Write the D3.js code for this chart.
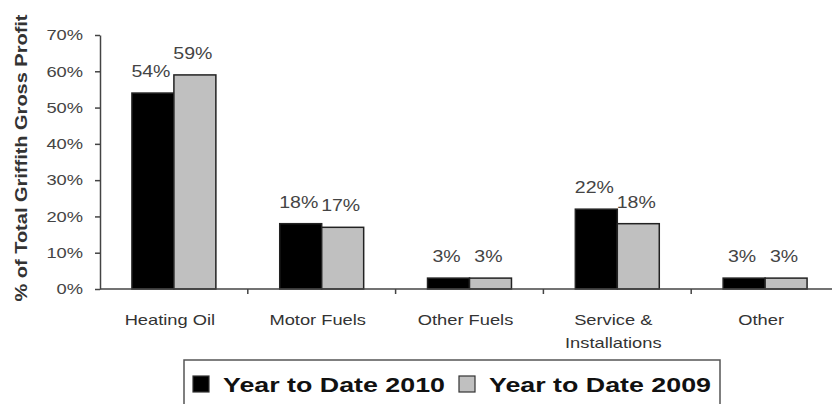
<!DOCTYPE html>
<html>
<head>
<meta charset="utf-8">
<script src="https://cdn.jsdelivr.net/npm/d3@7"></script>
<style>
  body { margin: 0; background: #fff; }
  text { font-family: Arial, "Liberation Sans", sans-serif; }
</style>
</head>
<body>
<div id="chart"></div>
<script>
let categories = ['Heating Oil', 'Motor Fuels', 'Other Fuels', 'Service & Installations', 'Other']
let seriesNames = ['Year to Date 2010', 'Year to Date 2009']
let values2010 = [54, 18, 3, 22, 3]
let values2009 = [59, 17, 3, 18, 3]
let yTicks = [0, 10, 20, 30, 40, 50, 60, 70]

let width = 832
let height = 404

let svg = d3
  .select('#chart')
  .append('svg')
  .attr('width', width)
  .attr('height', height)

// the source picture is stretched sideways, so text is widened to match
function widen(sel, k) {
  sel.each(function() {
    let len = this.getComputedTextLength()
    d3.select(this).attr('textLength', len * k).attr('lengthAdjust', 'spacingAndGlyphs')
  })
}

let x = d3.scaleBand().domain(categories).range([100, 839]).paddingInner(0.432).paddingOuter(0.216)
let sub = d3.scaleBand().domain(seriesNames).range([0, x.bandwidth()])
let y = d3.scaleLinear().domain([0, 70]).range([289, 35])

let colors = { 'Year to Date 2010': '#000', 'Year to Date 2009': '#c0c0c0' }

let rows = categories.map((c, i) => ({
  category: c,
  values: [
    { key: seriesNames[0], value: values2010[i] },
    { key: seriesNames[1], value: values2009[i] }
  ]
}))

// y axis
let yAxis = svg.append('g')
  .attr('transform', 'translate(100,0)')
  .call(d3.axisLeft(y).tickValues(yTicks).tickFormat(d => d + '%').tickSize(5).tickSizeOuter(0))
yAxis.select('.domain').attr('stroke', '#444').attr('stroke-width', 1.5)
yAxis.selectAll('line').attr('stroke', '#444').attr('stroke-width', 1.5)
yAxis.selectAll('text')
  .attr('font-size', 15)
  .attr('font-family', 'Arial, "Liberation Sans", sans-serif')
  .attr('fill', '#444')
  .attr('x', -17)
  .call(widen, 1.22)

// bars
let groups = svg.append('g')
  .selectAll('g')
  .data(rows)
  .enter().append('g')
  .attr('transform', d => `translate(${x(d.category)},0)`)

groups.selectAll('rect')
  .data(d => d.values)
  .enter().append('rect')
  .attr('x', d => sub(d.key))
  .attr('y', d => y(d.value))
  .attr('width', sub.bandwidth())
  .attr('height', d => y(0) - y(d.value))
  .attr('fill', d => colors[d.key])
  .attr('stroke', '#222')
  .attr('stroke-width', 1.5)

groups.selectAll('.value-label')
  .data(d => d.values)
  .enter().append('text')
  .attr('class', 'value-label')
  .attr('x', d => sub(d.key) + sub.bandwidth() / 2 - 2)
  .attr('y', d => y(d.value) - 16)
  .attr('text-anchor', 'middle')
  .attr('font-size', 16)
  .attr('fill', '#444')
  .text(d => d.value + '%')
  .call(widen, 1.22)

// x axis
let xAxis = svg.append('g')
  .attr('transform', `translate(0,${y(0)})`)
xAxis.append('line')
  .attr('x1', 100).attr('x2', 839)
  .attr('stroke', '#444').attr('stroke-width', 1.5)
xAxis.selectAll('.tick')
  .data(categories.slice(1))
  .enter().append('line')
  .attr('x1', d => x(d) - x.step() * x.paddingInner() / 2)
  .attr('x2', d => x(d) - x.step() * x.paddingInner() / 2)
  .attr('y1', 0).attr('y2', 5)
  .attr('stroke', '#444').attr('stroke-width', 1.5)

xAxis.selectAll('.cat-label')
  .data(categories)
  .enter().append('text')
  .attr('class', 'cat-label')
  .attr('text-anchor', 'middle')
  .attr('font-size', 15)
  .attr('fill', '#333')
  .attr('transform', d => `translate(${x(d) + x.bandwidth() / 2 - 4},36)`)
  .each(function(d) {
    let lines = d === 'Service & Installations' ? ['Service &', 'Installations'] : [d]
    d3.select(this).selectAll('tspan')
      .data(lines)
      .enter().append('tspan')
      .attr('x', 0)
      .attr('dy', (l, i) => i === 0 ? 0 : 23)
      .text(l => l)
      .call(widen, 1.22)
  })

// y title
svg.append('text')
  .attr('transform', 'translate(27,158) rotate(-90)')
  .attr('text-anchor', 'middle')
  .attr('font-size', 17)
  .attr('font-weight', 'bold')
  .attr('fill', '#333')
  .text('% of Total Griffith Gross Profit')
  .attr('textLength', 287)
  .attr('lengthAdjust', 'spacingAndGlyphs')

// legend
let legend = svg.append('g')
legend.append('rect')
  .attr('x', 184).attr('y', 360)
  .attr('width', 536).attr('height', 60)
  .attr('fill', '#fff')
  .attr('stroke', '#555').attr('stroke-width', 1.5)

let legendX = d3.scaleOrdinal().domain(seriesNames).range([193, 459])
legend.selectAll('g')
  .data(seriesNames)
  .enter().append('g')
  .attr('transform', d => `translate(${legendX(d)},376)`)
  .each(function(d) {
    let g = d3.select(this)
    g.append('rect')
      .attr('width', 16).attr('height', 16)
      .attr('fill', colors[d])
      .attr('stroke', '#333').attr('stroke-width', 1.2)
    g.append('text')
      .attr('x', 30).attr('y', 16)
      .attr('font-size', 21)
      .attr('font-weight', 'bold')
      .attr('fill', '#111')
      .text(d)
      .attr('textLength', 222)
      .attr('lengthAdjust', 'spacingAndGlyphs')
  })
</script>
</body>
</html>
